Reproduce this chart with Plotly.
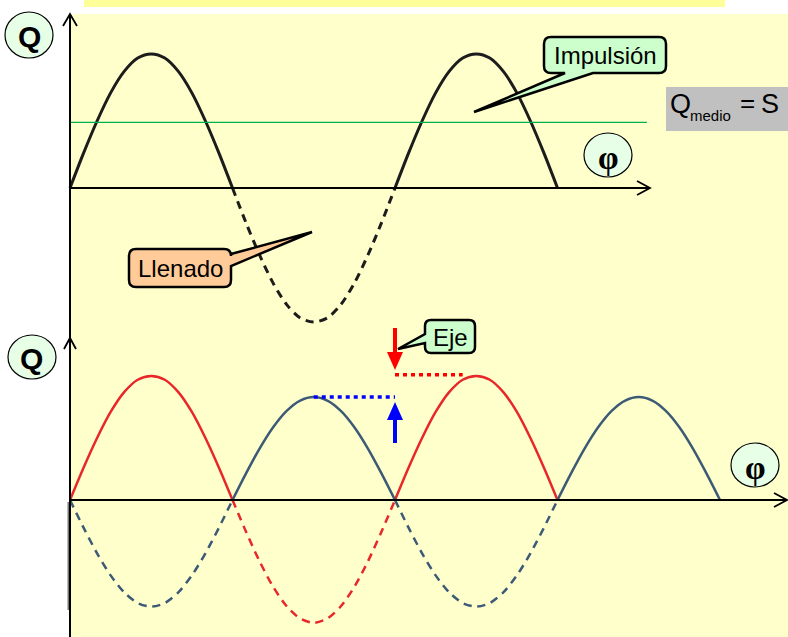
import plotly.graph_objects as go

W, H = 788, 637

# ---------------- data (phase in degrees, Q in relative units) ----------------
phi_top = [0, 15, 30, 45, 60, 75, 90, 105, 120, 135, 150, 165, 180,
           195, 210, 225, 240, 255, 270, 285, 300, 315, 330, 345, 360,
           375, 390, 405, 420, 435, 450, 465, 480, 495, 510, 525, 540]
q_top = [0, 0.26, 0.5, 0.71, 0.87, 0.97, 1.0, 0.97, 0.87, 0.71, 0.5, 0.26, 0,
         -0.26, -0.5, -0.71, -0.87, -0.97, -1.0, -0.97, -0.87, -0.71, -0.5, -0.26, 0,
         0.26, 0.5, 0.71, 0.87, 0.97, 1.0, 0.97, 0.87, 0.71, 0.5, 0.26, 0]
q_medio = 0.49
phi_medio_end = 639

phi_lobe_a = [0, 15, 30, 45, 60, 75, 90, 105, 120, 135, 150, 165, 180, None,
              360, 375, 390, 405, 420, 435, 450, 465, 480, 495, 510, 525, 540]
phi_lobe_b = [180, 195, 210, 225, 240, 255, 270, 285, 300, 315, 330, 345, 360, None,
              540, 555, 570, 585, 600, 615, 630, 645, 660, 675, 690, 705, 720]
q_red_pos = [0, 0.26, 0.5, 0.71, 0.87, 0.97, 1.0, 0.97, 0.87, 0.71, 0.5, 0.26, 0, None,
             0, 0.26, 0.5, 0.71, 0.87, 0.97, 1.0, 0.97, 0.87, 0.71, 0.5, 0.26, 0]
q_blue_pos = [0, 0.215, 0.415, 0.587, 0.719, 0.802, 0.83, 0.802, 0.719, 0.587, 0.415, 0.215, 0, None,
              0, 0.215, 0.415, 0.587, 0.719, 0.802, 0.83, 0.802, 0.719, 0.587, 0.415, 0.215, 0]
q_blue_neg = [0, -0.223, -0.43, -0.608, -0.745, -0.831, -0.86, -0.831, -0.745, -0.608, -0.43, -0.223, 0, None,
              0, -0.223, -0.43, -0.608, -0.745, -0.831, -0.86, -0.831, -0.745, -0.608, -0.43, -0.223, 0]
phi_red_neg = [180, 195, 210, 225, 240, 255, 270, 285, 300, 315, 330, 345, 360]
q_red_neg = [0, -0.256, -0.495, -0.7, -0.857, -0.956, -0.99, -0.956, -0.857, -0.7, -0.495, -0.256, 0]
phi_blue_dot = [270, 360]
q_blue_dot = [0.83, 0.83]
phi_red_dot = [360, 435]
q_red_dot = [1.01, 1.01]

# ---------------- helpers ----------------
X0PX = 70.0
PXDEG = 162.5 / 180.0
def X(px):
    return px / W
def Y(py):
    return 1 - py / H

def path(points, close=True):
    s = ""
    for i, p in enumerate(points):
        if p[0] == "Q":
            (cx, cy), (ex, ey) = p[1], p[2]
            s += f" Q{X(cx):.5f},{Y(cy):.5f} {X(ex):.5f},{Y(ey):.5f}"
        else:
            s += (" M" if i == 0 else " L") + f"{X(p[0]):.5f},{Y(p[1]):.5f}"
    if close:
        s += " Z"
    return s.strip()

def callout(x0, y0, x1, y1, r, side, a, b, tip):
    pts = [(x0 + r, y0)]
    if side == "top":
        pts += [(a, y0), tip, (b, y0)]
    pts += [(x1 - r, y0), ("Q", (x1, y0), (x1, y0 + r))]
    if side == "right":
        pts += [(x1, a), tip, (x1, b)]
    pts += [(x1, y1 - r), ("Q", (x1, y1), (x1 - r, y1))]
    if side == "bottom":
        pts += [(b, y1), tip, (a, y1)]
    pts += [(x0 + r, y1), ("Q", (x0, y1), (x0, y1 - r))]
    if side == "left":
        pts += [(x0, b), tip, (x0, a)]
    pts += [(x0, y0 + r), ("Q", (x0, y0), (x0 + r, y0))]
    return path(pts)

fig = go.Figure()

def add(x, y, color, width, dash="solid", yaxis="y"):
    fig.add_trace(go.Scatter(x=x, y=y, mode="lines", yaxis=yaxis,
                             line=dict(color=color, width=width, dash=dash, shape="spline", smoothing=0.8),
                             connectgaps=False, hoverinfo="skip", showlegend=False))

# top panel
solid_x = phi_top[0:13] + [None] + phi_top[24:37]
solid_y = q_top[0:13] + [None] + q_top[24:37]
add(solid_x, solid_y, "#1c1c1c", 3)
add(phi_top[12:25], q_top[12:25], "#1c1c1c", 3, dash="8px,6px")
fig.add_trace(go.Scatter(x=[0, phi_medio_end], y=[q_medio, q_medio], mode="lines",
                         line=dict(color="#00B050", width=1.3), hoverinfo="skip", showlegend=False))

# bottom panel
RED = "#E8272B"
BLUE = "#3C5A76"
add(phi_lobe_a, q_blue_neg, BLUE, 2.5, dash="8px,6px", yaxis="y2")
add(phi_red_neg, q_red_neg, RED, 2.5, dash="8px,6px", yaxis="y2")
add(phi_lobe_a, q_red_pos, RED, 2.5, yaxis="y2")
add(phi_lobe_b, q_blue_pos, BLUE, 2.5, yaxis="y2")
fig.add_trace(go.Scatter(x=phi_blue_dot, y=q_blue_dot, mode="lines", yaxis="y2",
                         line=dict(color="#0000FF", width=3.5, dash="4px,4px"), hoverinfo="skip", showlegend=False))
fig.add_trace(go.Scatter(x=phi_red_dot, y=q_red_dot, mode="lines", yaxis="y2",
                         line=dict(color="#FF0000", width=3.5, dash="4px,4px"), hoverinfo="skip", showlegend=False))

shapes = []
# backgrounds
shapes.append(dict(type="rect", xref="paper", yref="paper", x0=X(70), x1=X(788), y0=Y(637), y1=Y(14),
                   fillcolor="#FFFFCC", line=dict(width=0), layer="below"))
shapes.append(dict(type="rect", xref="paper", yref="paper", x0=X(84), x1=X(725), y0=Y(7), y1=Y(0),
                   fillcolor="#FFFF99", line=dict(width=0), layer="below"))
# gray bar on lower axis
shapes.append(dict(type="rect", xref="paper", yref="paper", x0=X(67.5), x1=X(70), y0=Y(610), y1=Y(502),
                   fillcolor="#777777", line=dict(width=0), layer="below"))

# axes
blk = dict(color="black", width=2)
shapes.append(dict(type="line", xref="x", yref="paper", x0=0, x1=0, y0=0, y1=Y(14), line=blk))
shapes.append(dict(type="line", xref="x", yref="y", x0=0, x1=(650 - X0PX) / PXDEG, y0=0, y1=0, line=blk))
shapes.append(dict(type="line", xref="x", yref="y2", x0=0, x1=(786 - X0PX) / PXDEG, y0=0, y1=0, line=blk))
for pts in ([(63, 26), (70, 14), (77, 26)], [(64, 349), (70, 338), (76, 349)],
            [(637, 181), (650, 188), (637, 195)], [(774, 493), (787, 500), (774, 507)]):
    shapes.append(dict(type="path", xref="paper", yref="paper", path=path(pts, close=False),
                       line=dict(color="black", width=1.8)))

# circles
CIRC = "#E6FFE6"
for cx, cy, rx, ry in ((29, 35, 24, 23), (32, 357, 24, 22), (608, 155, 24, 22), (755, 465, 24, 22)):
    shapes.append(dict(type="circle", xref="paper", yref="paper", x0=X(cx - rx), x1=X(cx + rx),
                       y0=Y(cy + ry), y1=Y(cy - ry), fillcolor=CIRC, line=dict(color="black", width=1.2)))

# Q medio box
shapes.append(dict(type="rect", xref="paper", yref="paper", x0=X(666), x1=X(788), y0=Y(131), y1=Y(87),
                   fillcolor="#C0C0C0", line=dict(width=0)))

# callouts
shapes.append(dict(type="path", xref="paper", yref="paper",
                   path=callout(544, 37, 666, 73, 7, "bottom", 565, 593, (474, 112)),
                   fillcolor="#CCFFCC", line=dict(color="black", width=2.5)))
shapes.append(dict(type="path", xref="paper", yref="paper",
                   path=callout(129, 249, 231, 287, 7, "right", 254, 266, (312, 232)),
                   fillcolor="#FFCC99", line=dict(color="black", width=2.5)))
shapes.append(dict(type="path", xref="paper", yref="paper",
                   path=callout(425, 320, 475, 353, 6, "left", 334, 343, (398, 349)),
                   fillcolor="#CCFFCC", line=dict(color="black", width=2.5)))

# red / blue arrows
shapes.append(dict(type="path", xref="paper", yref="paper",
                   path=path([(393, 328), (397, 328), (397, 352), (403, 352), (395, 370), (387, 352), (393, 352)]),
                   fillcolor="#FF0000", line=dict(width=0)))
shapes.append(dict(type="path", xref="paper", yref="paper",
                   path=path([(393, 443), (397, 443), (397, 420), (403, 420), (395, 402), (387, 420), (393, 420)]),
                   fillcolor="#0000FF", line=dict(width=0)))

ann = []
FONT = "Liberation Sans, Arial, sans-serif"
SERIF = "Liberation Serif, Times New Roman, serif"
def txt(x, y, t, size, family=FONT, anchor="center", bold=False):
    ann.append(dict(xref="paper", yref="paper", x=X(x), y=Y(y), text=(f"<b>{t}</b>" if bold else t),
                    showarrow=False, xanchor=anchor, yanchor="middle",
                    font=dict(size=size, family=family, color="black")))

txt(29, 36, "Q", 30, bold=True)
txt(32, 358, "Q", 30, bold=True)
txt(608, 158, "φ", 33, family=SERIF, bold=True)
txt(755, 468, "φ", 33, family=SERIF, bold=True)
txt(605, 55, "Impulsión", 24)
txt(180, 268, "Llenado", 24)
txt(450, 337, "Eje", 24)
# Q_medio = S
txt(668, 104, "Q", 27, anchor="left")
txt(688, 116, "medio", 15, anchor="left")
txt(747, 103, "=", 26)
txt(759, 104, "S", 27, anchor="left")

fig.update_layout(
    width=W, height=H, margin=dict(l=0, r=0, t=0, b=0), autosize=False,
    paper_bgcolor="white", plot_bgcolor="rgba(0,0,0,0)",
    xaxis=dict(range=[-X0PX / PXDEG, (W - X0PX) / PXDEG], visible=False, fixedrange=True),
    yaxis=dict(range=[(188 - H) / 134.0, 188 / 134.0], visible=False, fixedrange=True),
    yaxis2=dict(range=[(500 - H) / 124.0, 500 / 124.0], visible=False, overlaying="y", fixedrange=True),
    shapes=shapes, annotations=ann, showlegend=False, hovermode=False,
)

fig.write_html("out.html", config={"displayModeBar": False},
               post_script="document.body.style.margin='0';document.body.style.overflow='hidden';")
